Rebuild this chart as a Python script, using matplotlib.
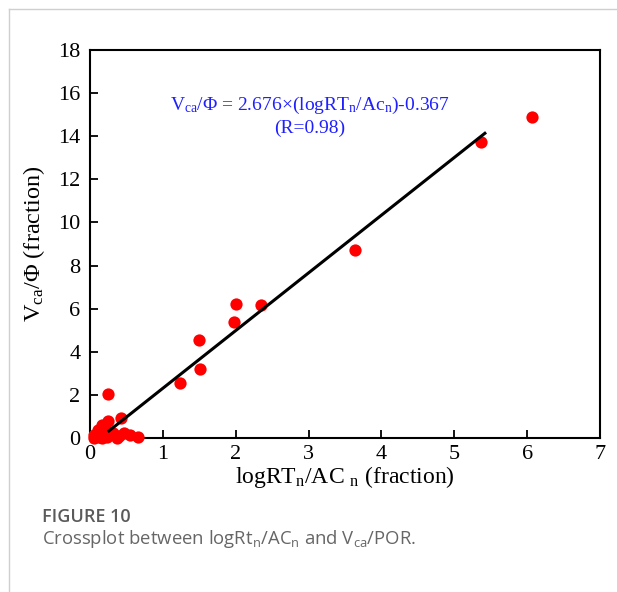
import matplotlib.pyplot as plt
from matplotlib.lines import Line2D

# --------------------------------------------------
# Data
# --------------------------------------------------
log_rt_ac = [6.07, 5.37, 3.64, 2.00, 2.35, 1.98, 1.49, 1.51, 1.24, 0.25,
             0.43, 0.25, 0.16, 0.11, 0.05, 0.06, 0.23, 0.32, 0.46, 0.55,
             0.66, 0.37, 0.16, 0.12, 0.20, 0.40]
vca_por = [14.88, 13.75, 8.72, 6.22, 6.18, 5.38, 4.55, 3.18, 2.55, 2.02,
           0.91, 0.80, 0.60, 0.37, 0.14, 0.02, 0.06, 0.22, 0.22, 0.14,
           0.06, 0.02, 0.00, 0.05, 0.45, 0.10]

slope = 2.676
intercept = -0.367
fit_x = [0.26, 5.42]
fit_y = [slope * x + intercept for x in fit_x]

x_ticks = [0, 1, 2, 3, 4, 5, 6, 7]
y_ticks = [0, 2, 4, 6, 8, 10, 12, 14, 16, 18]

# --------------------------------------------------
# Style
# --------------------------------------------------
plt.rcParams["font.family"] = ["Liberation Serif", "DejaVu Serif"]
plt.rcParams["mathtext.fontset"] = "custom"
plt.rcParams["mathtext.rm"] = "Liberation Serif"
plt.rcParams["mathtext.it"] = "Liberation Serif:italic"

fig = plt.figure(figsize=(6.17, 5.92), dpi=100)
ax = fig.add_axes([0.1459, 0.2601, 0.8265, 0.6554])

ax.scatter(log_rt_ac, vca_por, s=78, color="#ff0000", zorder=3,
           clip_on=False, linewidths=0)
ax.plot(fit_x, fit_y, color="black", lw=2.2, zorder=4)

ax.set_xlim(0, 7)
ax.set_ylim(0, 18)
ax.set_xticks(x_ticks)
ax.set_yticks(y_ticks)
ax.tick_params(direction="in", length=5.5, width=1.3, labelsize=16,
               top=False, right=False)
ax.tick_params(axis="y", pad=7)
ax.tick_params(axis="x", pad=5)

for spine in ax.spines.values():
    spine.set_linewidth(1.5)

ax.set_xlabel(r"logRT$_{\rm n}$/AC $_{\rm n}$ (fraction)", fontsize=17,
              labelpad=0)
ax.set_ylabel(r"V$_{\rm ca}$/Φ (fraction)", fontsize=17.5, labelpad=8)

ax.text(0.431, 0.858,
        r"V$_{\rm ca}$/Φ = 2.676×(logRT$_{\rm n}$/Ac$_{\rm n}$)-0.367",
        transform=ax.transAxes, ha="center", va="center",
        fontsize=14, color="#2020ff")
ax.text(0.431, 0.799, "(R=0.98)", transform=ax.transAxes,
        ha="center", va="center", fontsize=14, color="#2020ff")

# thin frame around the figure panel
fig.add_artist(Line2D([9 / 617, 9 / 617], [0, 1 - 9 / 592],
                      transform=fig.transFigure, color="#cfcfcf", lw=1))
fig.add_artist(Line2D([9 / 617, 1], [1 - 9 / 592, 1 - 9 / 592],
                      transform=fig.transFigure, color="#cfcfcf", lw=1))

# caption
fig.text(42 / 617, 1 - 517 / 592, "FIGURE 10", fontsize=13,
         family="Open Sans", weight="semibold", color="#5a5a5a",
         va="center", ha="left")
fig.text(42 / 617, 1 - 539 / 592,
         r"Crossplot between logRt$_{\mathregular{n}}$/AC$_{\mathregular{n}}$"
         r" and V$_{\mathregular{ca}}$/POR.",
         fontsize=13.3, family="Open Sans", color="#666666",
         va="center", ha="left",
         math_fontfamily="dejavusans")

fig.savefig("out.png", dpi=100)
